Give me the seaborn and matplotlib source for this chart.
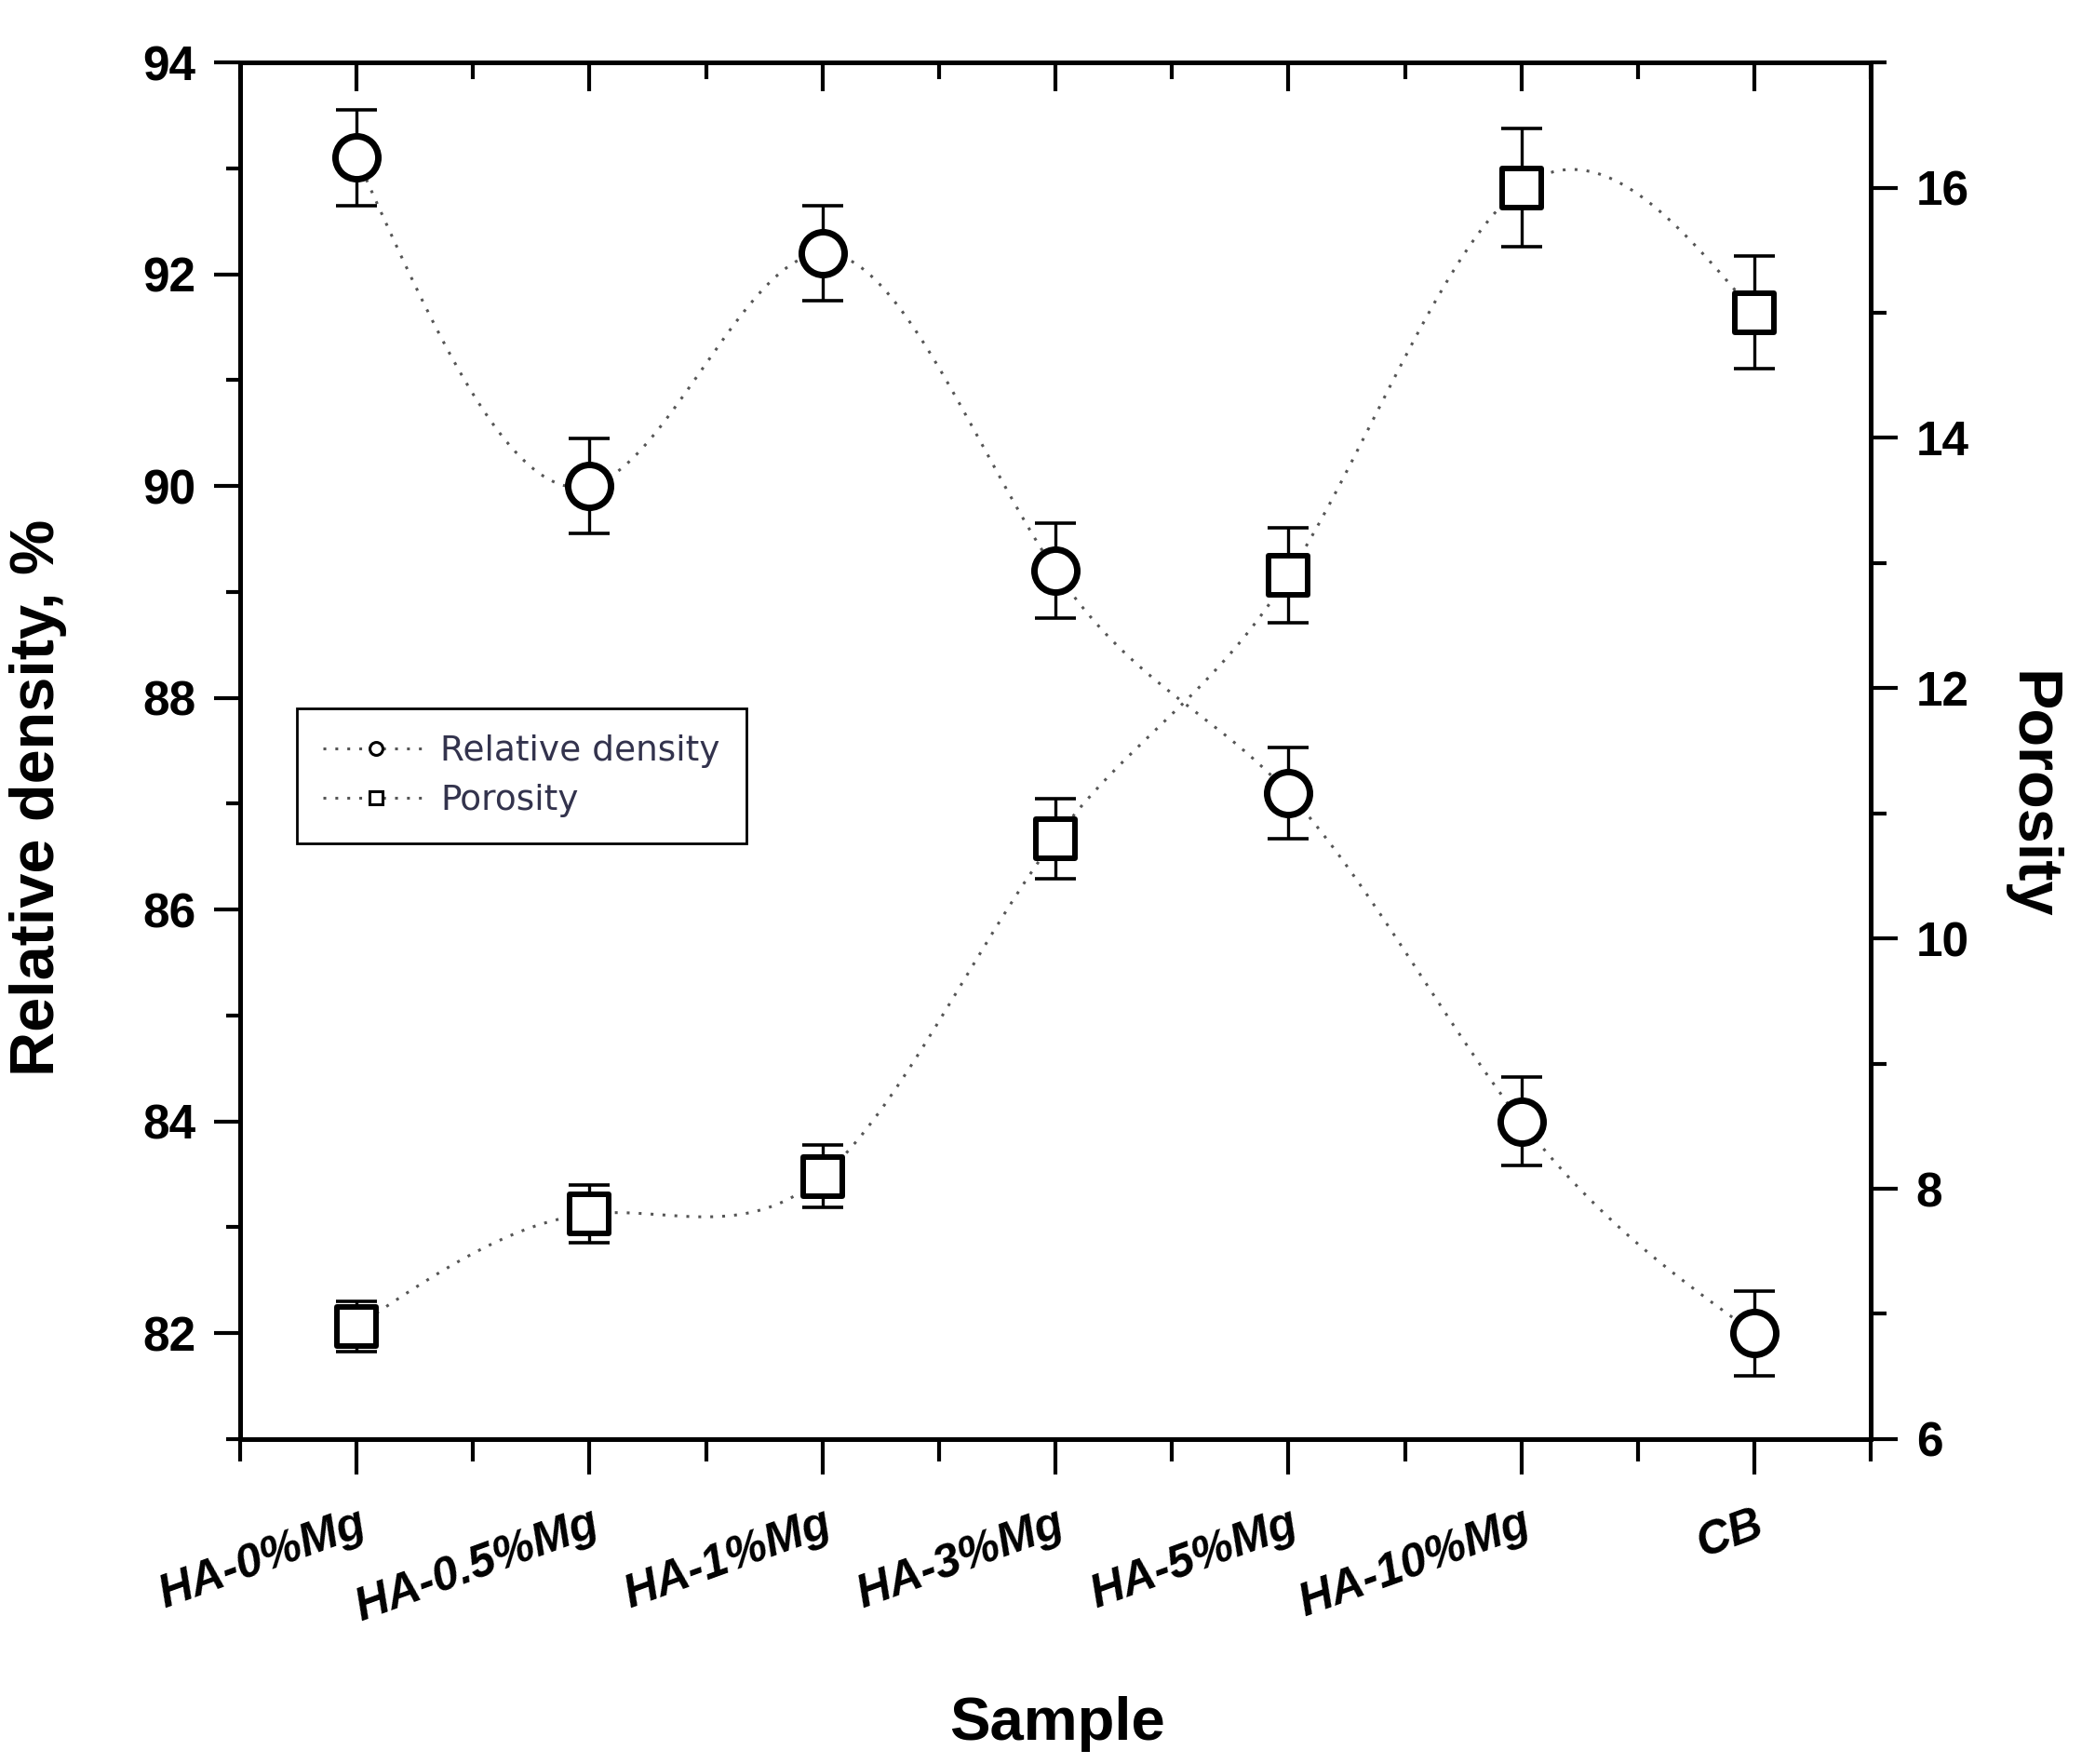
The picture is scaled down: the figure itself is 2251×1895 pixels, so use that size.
import numpy as np
import pandas as pd
import matplotlib
matplotlib.use("Agg")
import matplotlib.pyplot as plt
from matplotlib.lines import Line2D
from matplotlib.ticker import MultipleLocator
import seaborn as sns

# data
samples = ["HA-0%Mg", "HA-0.5%Mg", "HA-1%Mg", "HA-3%Mg", "HA-5%Mg", "HA-10%Mg", "CB"]
rel_density = [93.1, 90.0, 92.2, 89.2, 87.1, 84.0, 82.0]
rel_density_err = [0.45, 0.45, 0.45, 0.45, 0.43, 0.42, 0.4]
porosity = [6.9, 7.8, 8.1, 10.8, 12.9, 16.0, 15.0]
porosity_err = [0.2, 0.23, 0.25, 0.32, 0.38, 0.47, 0.45]

sns.set_style("ticks")
plt.rcParams['font.family'] = ['Liberation Sans', 'DejaVu Sans']
plt.rcParams['text.color'] = 'black'
plt.rcParams['axes.labelcolor'] = 'black'
plt.rcParams['xtick.color'] = 'black'
plt.rcParams['ytick.color'] = 'black'


def smooth_curve(x, y, n=300):
    # natural cubic spline through the points (like Origin's spline connector)
    x = np.asarray(x, float)
    y = np.asarray(y, float)
    m = len(x)
    h = np.diff(x)
    A = np.zeros((m, m))
    r = np.zeros(m)
    A[0, 0] = A[-1, -1] = 1
    for i in range(1, m - 1):
        A[i, i - 1] = h[i - 1]
        A[i, i] = 2 * (h[i - 1] + h[i])
        A[i, i + 1] = h[i]
        r[i] = 3 * ((y[i + 1] - y[i]) / h[i] - (y[i] - y[i - 1]) / h[i - 1])
    c = np.linalg.solve(A, r)
    b = (y[1:] - y[:-1]) / h - h * (2 * c[:-1] + c[1:]) / 3
    d = (c[1:] - c[:-1]) / (3 * h)
    xs = np.linspace(x[0], x[-1], n)
    idx = np.clip(np.searchsorted(x, xs) - 1, 0, m - 2)
    dx = xs - x[idx]
    ys = y[idx] + b[idx] * dx + c[idx] * dx ** 2 + d[idx] * dx ** 3
    return xs, ys


df = pd.DataFrame({"pos": np.arange(len(samples)), "Sample": samples,
                   "density": rel_density, "density_err": rel_density_err,
                   "porosity": porosity, "porosity_err": porosity_err})

fig = plt.figure(figsize=(22.51, 18.95), dpi=100)
ax = fig.add_axes([0.1146, 0.1842, 0.7784, 0.7804])
ax2 = ax.twinx()

dot_style = dict(color="#555555", linewidth=2.2, linestyle=(0, (1, 3.2)))

# relative density (left axis)
xs, ys = smooth_curve(df["pos"], df["density"])
sns.lineplot(x=xs, y=ys, ax=ax, zorder=1, **dot_style)
ax.errorbar(df["pos"], df["density"], yerr=df["density_err"], fmt="none",
            ecolor="black", elinewidth=2.4, capsize=16, capthick=2.6, zorder=2)
sns.scatterplot(data=df, x="pos", y="density", ax=ax, marker="o", s=1100,
                facecolor="white", edgecolor="black", linewidth=5, zorder=3)

# porosity (right axis)
xs, ys = smooth_curve(df["pos"], df["porosity"])
sns.lineplot(x=xs, y=ys, ax=ax2, zorder=1, **dot_style)
ax2.errorbar(df["pos"], df["porosity"], yerr=df["porosity_err"], fmt="none",
             ecolor="black", elinewidth=2.4, capsize=16, capthick=2.6, zorder=2)
sns.scatterplot(data=df, x="pos", y="porosity", ax=ax2, marker="s", s=900,
                facecolor="white", edgecolor="black", linewidth=4.3, zorder=3)

# axes limits and ticks
ax.set_xlim(-0.5, 6.5)
ax.set_ylim(81, 94)
ax2.set_ylim(6, 17)
ax.set_xticks(df["pos"])
ax.xaxis.set_minor_locator(MultipleLocator(0.5))
ax.set_xticklabels(samples, rotation=20, ha="right", rotation_mode="anchor",
                   fontsize=36, fontweight="bold", fontstyle="italic")
ax.set_yticks(np.arange(82, 95, 2))
ax.yaxis.set_minor_locator(MultipleLocator(1))
ax2.set_yticks(np.arange(6, 17, 2))
ax2.yaxis.set_minor_locator(MultipleLocator(1))

for a in (ax, ax2):
    for s in a.spines.values():
        s.set_linewidth(3.5)
        s.set_color("black")

ax.tick_params(axis="x", which="major", direction="out", length=27, width=3, pad=22)
ax.tick_params(axis="x", which="minor", direction="out", length=17, width=3)
ax.tick_params(axis="y", which="major", direction="out", length=20, width=3,
               labelsize=37, pad=14)
ax.tick_params(axis="y", which="minor", direction="out", length=11, width=3)
for lab in ax.get_yticklabels():
    lab.set_fontweight("bold")
ax2.tick_params(axis="y", which="major", direction="out", length=21, width=3,
                labelsize=37, pad=14)
ax2.tick_params(axis="y", which="minor", direction="out", length=12, width=3)
for lab in ax2.get_yticklabels():
    lab.set_fontweight("bold")

# inward ticks on the top edge
top = ax.secondary_xaxis("top")
top.set_xticks(df["pos"])
top.xaxis.set_minor_locator(MultipleLocator(0.5))
top.tick_params(axis="x", which="major", direction="in", length=22, width=3,
                labeltop=False)
top.tick_params(axis="x", which="minor", direction="in", length=13, width=3)
top.spines["top"].set_linewidth(3.5)

# axis labels
ax.set_xlabel("Sample", fontsize=47, fontweight="bold")
ax.xaxis.set_label_coords(0.501, -0.187)
ax.set_ylabel("Relative density, %", fontsize=48, fontweight="bold")
ax.yaxis.set_label_coords(-0.106, 0.466)
ax2.set_ylabel("Porosity", fontsize=48, fontweight="bold", rotation=-90,
               va="center")
ax2.yaxis.set_label_coords(1.098, 0.468)

# legend
handles = [
    Line2D([], [], marker="o", markersize=10, markerfacecolor="white",
           markeredgecolor="black", markeredgewidth=2.2, **dot_style),
    Line2D([], [], marker="s", markersize=10, markerfacecolor="white",
           markeredgecolor="black", markeredgewidth=2.2, **dot_style),
]
leg = ax.legend(handles, ["Relative density", "Porosity"], loc="upper left",
                bbox_to_anchor=(0.035, 0.531), fancybox=False, framealpha=1,
                edgecolor="black", prop={"family": "DejaVu Sans", "size": 27},
                handlelength=3.0, handletextpad=0.35, borderpad=0.75,
                labelspacing=0.45, borderaxespad=0)
leg.get_frame().set_linewidth(2)
for t in leg.get_texts():
    t.set_color("#33334d")
leg.set_zorder(5)

fig.savefig("out.png", dpi=100, facecolor="white")
